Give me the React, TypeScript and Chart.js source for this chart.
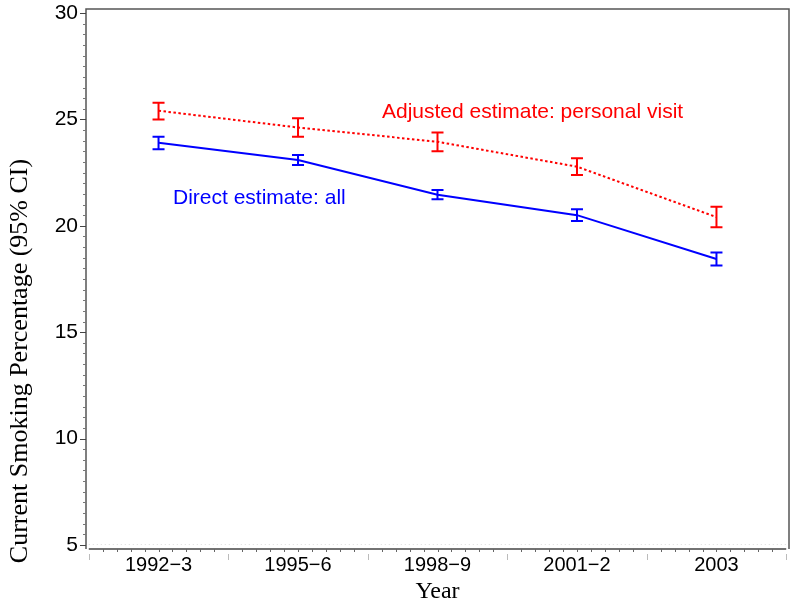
import React, { useEffect, useRef } from 'react';
import { Chart, registerables } from 'chart.js';

Chart.register(...registerables);

// ---- data ----
const categories = ['1992\u22123', '1995\u22126', '1998\u22129', '2001\u22122', '2003'];
const adjusted = [25.41, 24.62, 23.95, 22.78, 20.41];
const adjustedLower = [25.0, 24.19, 23.51, 22.39, 19.93];
const adjustedUpper = [25.78, 25.05, 24.38, 23.17, 20.9];
const direct = [23.9, 23.09, 21.46, 20.5, 18.44];
const directLower = [23.6, 22.86, 21.25, 20.23, 18.13];
const directUpper = [24.19, 23.33, 21.68, 20.78, 18.74];
const yTicks = [5, 10, 15, 20, 25, 30];
const adjustedLabel = 'Adjusted estimate: personal visit';
const directLabel = 'Direct estimate: all';
const yTitle = 'Current Smoking Percentage (95% CI)';
const xTitle = 'Year';

const RED = '#ff0000';
const BLUE = '#0000ff';

const decorPlugin = {
  id: 'decor',
  beforeDatasetsDraw(chart: any) {
    const ctx = chart.ctx;
    const { left, top, right, bottom } = chart.chartArea;
    const xs = chart.scales.x;
    const ys = chart.scales.y;
    ctx.save();
    // frame
    ctx.strokeStyle = '#555';
    ctx.lineWidth = 1.5;
    ctx.beginPath();
    ctx.moveTo(left, bottom);
    ctx.lineTo(left, top);
    ctx.lineTo(right, top);
    ctx.lineTo(right, bottom);
    ctx.stroke();
    // faint dotted line near bottom
    ctx.strokeStyle = '#dddddd';
    ctx.lineWidth = 1;
    ctx.setLineDash([1, 3]);
    ctx.beginPath();
    ctx.moveTo(xs.getPixelForValue(0), bottom - 4.5);
    ctx.lineTo(xs.getPixelForValue(categories.length), bottom - 4.5);
    ctx.stroke();
    ctx.setLineDash([]);
    // x axis line
    ctx.strokeStyle = '#444';
    ctx.lineWidth = 1.5;
    ctx.beginPath();
    ctx.moveTo(xs.getPixelForValue(0), bottom);
    ctx.lineTo(xs.getPixelForValue(categories.length), bottom);
    ctx.stroke();
    // x ticks
    ctx.lineWidth = 1;
    for (let i = 0; i <= categories.length * 10; i++) {
      const v = i / 10;
      const px = Math.round(xs.getPixelForValue(v)) + 0.5;
      ctx.beginPath();
      if (i % 10 === 0) {
        ctx.strokeStyle = '#bbb';
        ctx.moveTo(px, bottom + 5);
        ctx.lineTo(px, bottom + 11);
      } else {
        ctx.strokeStyle = '#666';
        ctx.moveTo(px, bottom);
        ctx.lineTo(px, bottom + 3);
      }
      ctx.stroke();
    }
    // y ticks
    for (let v = 5; v <= 30.001; v += 0.5) {
      const py = Math.round(ys.getPixelForValue(v)) + 0.5;
      const major = Math.abs(v % 5) < 1e-6;
      ctx.strokeStyle = major ? '#444' : '#777';
      ctx.beginPath();
      ctx.moveTo(left, py);
      ctx.lineTo(left - (major ? 6 : 3), py);
      ctx.stroke();
    }
    ctx.restore();
  },
  afterDatasetsDraw(chart: any) {
    const ctx = chart.ctx;
    const xs = chart.scales.x;
    const ys = chart.scales.y;
    ctx.save();
    const bars = (lo: number[], hi: number[], color: string) => {
      ctx.strokeStyle = color;
      ctx.lineWidth = 2;
      lo.forEach((l, i) => {
        const px = xs.getPixelForValue(i + 0.5);
        const p1 = ys.getPixelForValue(l);
        const p2 = ys.getPixelForValue(hi[i]);
        ctx.beginPath();
        ctx.moveTo(px, p1);
        ctx.lineTo(px, p2);
        ctx.moveTo(px - 6, p1);
        ctx.lineTo(px + 6, p1);
        ctx.moveTo(px - 6, p2);
        ctx.lineTo(px + 6, p2);
        ctx.stroke();
      });
    };
    bars(adjustedLower, adjustedUpper, RED);
    bars(directLower, directUpper, BLUE);

    // annotations
    ctx.font = '21px "Liberation Sans", Arial, sans-serif';
    ctx.textAlign = 'left';
    ctx.textBaseline = 'alphabetic';
    ctx.fillStyle = RED;
    ctx.fillText(adjustedLabel, 382, 118);
    ctx.fillStyle = BLUE;
    ctx.fillText(directLabel, 173, 204);

    // axis titles
    ctx.fillStyle = '#000';
    ctx.font = '24px "Liberation Serif", "Times New Roman", serif';
    ctx.textAlign = 'center';
    ctx.fillText(xTitle, (chart.chartArea.left + chart.chartArea.right) / 2, 598);
    ctx.translate(27, 361);
    ctx.rotate(-Math.PI / 2);
    ctx.font = '26px "Liberation Serif", "Times New Roman", serif';
    ctx.fillText(yTitle, 0, 0);
    ctx.restore();
  },
};

export default function App() {
  const ref = useRef<HTMLCanvasElement | null>(null);
  useEffect(() => {
    if (!ref.current) return;
    const chart = new Chart(ref.current, {
      type: 'line',
      data: {
        datasets: [
          {
            label: adjustedLabel,
            data: adjusted.map((y, i) => ({ x: i + 0.5, y })),
            borderColor: RED,
            borderWidth: 2,
            borderDash: [2.5, 2.5],
            pointRadius: 0,
            fill: false,
            tension: 0,
          },
          {
            label: directLabel,
            data: direct.map((y, i) => ({ x: i + 0.5, y })),
            borderColor: BLUE,
            borderWidth: 2,
            pointRadius: 0,
            fill: false,
            tension: 0,
          },
        ],
      },
      options: {
        animation: false,
        responsive: false,
        events: [],
        layout: { padding: { left: 0, top: 9, right: 11, bottom: 0 } },
        plugins: { legend: { display: false }, tooltip: { enabled: false } },
        scales: {
          x: {
            type: 'linear',
            min: -0.02,
            max: categories.length + 0.02,
            grid: { display: false, drawTicks: false },
            border: { display: false },
            afterBuildTicks: (s: any) => {
              s.ticks = categories.map((_, i) => ({ value: i + 0.5 }));
            },
            afterFit: (s: any) => {
              s.height = 53;
              s.paddingLeft = 0;
              s.paddingRight = 0;
            },
            ticks: {
              autoSkip: false,
              maxRotation: 0,
              padding: 4,
              color: '#000',
              font: { family: '"Liberation Sans", Arial, sans-serif', size: 20 },
              callback: (v: any) => categories[Math.round(Number(v) - 0.5)] ?? '',
            },
          },
          y: {
            type: 'linear',
            min: 4.81,
            max: 30.19,
            grid: { display: false, drawTicks: false },
            border: { display: false },
            afterBuildTicks: (s: any) => {
              s.ticks = yTicks.map((v) => ({ value: v }));
            },
            afterFit: (s: any) => {
              s.width = 86;
              s.paddingTop = 0;
              s.paddingBottom = 0;
            },
            ticks: {
              padding: 8,
              color: '#000',
              font: { family: '"Liberation Sans", Arial, sans-serif', size: 21 },
              callback: (v: any) => String(v),
            },
          },
        },
      },
      plugins: [decorPlugin],
    } as any);
    return () => chart.destroy();
  }, []);
  return (
    <div style={{ position: 'absolute', left: 0, top: 0, width: 800, height: 602, background: '#fff' }}>
      <canvas ref={ref} width={800} height={602} style={{ display: 'block' }} />
    </div>
  );
}
